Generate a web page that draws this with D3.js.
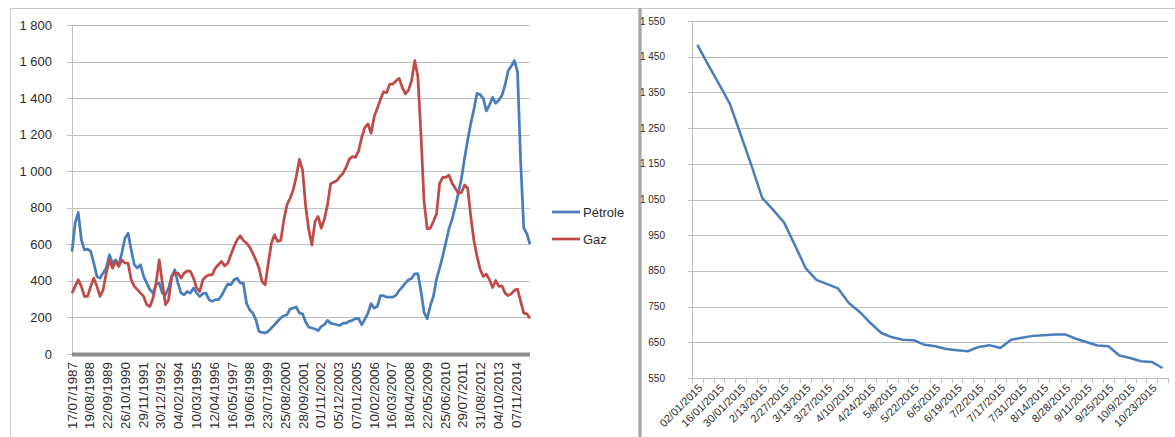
<!DOCTYPE html>
<html>
<head>
<meta charset="utf-8">
<script src="https://cdn.jsdelivr.net/npm/d3@7"></script>
<style>
  body { margin: 0; background: #fff; }
  svg { display: block; font-family: "Liberation Sans", Arial, sans-serif; }
</style>
</head>
<body>
<svg id="chart" width="1175" height="437"></svg>
<script>
// ---- Long-run series: one reading every 10 weeks from 17/07/1987 ----
const sampleStepWeeks = 10;
const oilLong = [
  560, 716, 774, 625, 570, 574, 561, 497, 424, 415,
  443, 470, 543, 497, 515, 488, 552, 634, 661, 570,
  488, 470, 488, 424, 388, 352, 333, 379, 388, 333,
  324, 361, 424, 461, 388, 333, 324, 342, 333, 361,
  333, 315, 330, 333, 297, 288, 297, 297, 319, 352,
  384, 379, 406, 415, 388, 388, 279, 242, 224, 188,
  124, 118, 115, 124, 142, 160, 179, 197, 209, 215,
  246, 251, 257, 224, 220, 175, 147, 142, 137, 128,
  151, 160, 184, 169, 164, 160, 157, 169, 169, 179,
  184, 195, 193, 160, 191, 224, 275, 251, 260, 319,
  319, 311, 311, 311, 322, 348, 366, 388, 406, 413,
  439, 440, 345, 228, 193, 264, 315, 410, 470, 537,
  610, 685, 738, 805, 880, 960, 1071, 1171, 1262, 1339,
  1426, 1419, 1399, 1330, 1362, 1404, 1372, 1390, 1415, 1472,
  1550, 1576, 1605, 1545, 1053, 689, 658, 600
];
const gasLong = [
  333, 370, 406, 370, 315, 315, 370, 415, 370, 315,
  352, 443, 515, 470, 506, 479, 515, 497, 497, 406,
  370, 352, 333, 315, 270, 260, 306, 388, 515, 388,
  270, 297, 424, 443, 443, 415, 443, 455, 452, 415,
  361, 342, 406, 424, 433, 433, 470, 488, 506, 482,
  497, 543, 588, 625, 647, 621, 607, 585, 552, 515,
  470, 397, 379, 497, 607, 652, 616, 621, 734, 816,
  852, 898, 971, 1065, 1007, 807, 679, 596, 725, 752,
  689, 738, 816, 931, 940, 949, 971, 989, 1022, 1066,
  1080, 1076, 1113, 1186, 1240, 1258, 1208, 1299, 1344, 1393,
  1435, 1430, 1477, 1477, 1495, 1508, 1459, 1423, 1444, 1495,
  1605, 1520, 1200, 834, 685, 689, 725, 767, 934, 967,
  967, 978, 934, 907, 880, 883, 925, 907, 752, 621,
  534, 464, 424, 437, 406, 364, 402, 370, 373, 333,
  319, 330, 348, 355, 288, 224, 220, 195
];
const longLabelStepWeeks = 57;
const longLabels = [
  "17/07/1987", "19/08/1988", "22/09/1989", "26/10/1990", "29/11/1991",
  "30/12/1992", "04/02/1994", "10/03/1995", "12/04/1996", "16/05/1997",
  "19/06/1998", "23/07/1999", "25/08/2000", "28/09/2001", "01/11/2002",
  "05/12/2003", "07/01/2005", "10/02/2006", "16/03/2007", "18/04/2008",
  "22/05/2009", "25/06/2010", "29/07/2011", "31/08/2012", "04/10/2013",
  "07/11/2014"
];
const longTicks = [0, 200, 400, 600, 800, 1000, 1200, 1400, 1600, 1800];
const seriesNames = ["Pétrole", "Gaz"];
const seriesColors = ["#4a7ebb", "#be4b48"];

// ---- 2015 weekly series ----
const weeks2015 = [
  "02/01/2015", "09/01/2015", "16/01/2015", "23/01/2015", "30/01/2015",
  "2/6/2015", "2/13/2015", "2/20/2015", "2/27/2015", "3/6/2015",
  "3/13/2015", "3/20/2015", "3/27/2015", "4/3/2015", "4/10/2015",
  "4/17/2015", "4/24/2015", "5/1/2015", "5/8/2015", "5/15/2015",
  "5/22/2015", "5/29/2015", "6/5/2015", "6/12/2015", "6/19/2015",
  "6/26/2015", "7/2/2015", "7/10/2015", "7/17/2015", "7/24/2015",
  "7/31/2015", "8/7/2015", "8/14/2015", "8/21/2015", "8/28/2015",
  "9/4/2015", "9/11/2015", "9/18/2015", "9/25/2015", "10/2/2015",
  "10/9/2015", "10/16/2015", "10/23/2015", "10/30/2015"
];
const oil2015 = [
  1483, 1427, 1373, 1318, 1232, 1145, 1054, 1021, 986, 923,
  858, 825, 813, 801, 760, 735, 704, 676, 664, 657,
  656, 643, 639, 631, 628, 625, 637, 642, 634, 657,
  663, 668, 670, 672, 672, 660, 650, 641, 639, 613,
  606, 597, 595, 578
];
const ticks2015 = [550, 650, 750, 850, 950, 1050, 1150, 1250, 1350, 1450, 1550];

// ---- drawing ----
const svg = d3.select("#chart");
const fr = d3.formatLocale({ decimal: ",", thousands: " ", grouping: [3], currency: ["", " €"] });
const fmt = fr.format(",d");
const gridColor = "#bfbfbf";
const textColor = "#2b2b2b";

// panel frames
svg.append("rect").attr("x", 10.5).attr("y", 8.5).attr("width", 628).attr("height", 460)
  .attr("fill", "none").attr("stroke", "#c6c6c6");
svg.append("rect").attr("x", 641.5).attr("y", 8.5).attr("width", 560).attr("height", 460)
  .attr("fill", "none").attr("stroke", "#c6c6c6");
svg.append("line").attr("x1", 640).attr("x2", 640).attr("y1", 8).attr("y2", 437)
  .attr("stroke", "#a8a8a8").attr("stroke-width", 2);

// ===== Left chart =====
const L = { left: 72, right: 530, top: 25, bottom: 354 };
const xL = d3.scaleLinear().domain([0, (oilLong.length - 1) * sampleStepWeeks]).range([L.left, L.right]);
const yL = d3.scaleLinear().domain([0, 1800]).range([L.bottom, L.top]);
const gL = svg.append("g");

gL.selectAll("line.grid").data(longTicks.filter(d => d > 0)).join("line")
  .attr("x1", L.left - 5).attr("x2", L.right)
  .attr("y1", d => Math.round(yL(d)) + 0.5).attr("y2", d => Math.round(yL(d)) + 0.5)
  .attr("stroke", gridColor);
gL.append("line").attr("x1", L.left - 5).attr("x2", L.left)
  .attr("y1", L.bottom + 0.5).attr("y2", L.bottom + 0.5).attr("stroke", gridColor);
gL.append("line").attr("x1", L.left + 0.5).attr("x2", L.left + 0.5)
  .attr("y1", L.top).attr("y2", L.bottom).attr("stroke", gridColor);

gL.selectAll("text.ylab").data(longTicks).join("text")
  .attr("x", 52).attr("y", d => yL(d)).attr("dy", "0.35em")
  .attr("text-anchor", "end").attr("font-size", 13).attr("fill", textColor)
  .text(d => fmt(d));

const lineL = d3.line().x((d, i) => xL(i * sampleStepWeeks)).y(d => yL(d));
[oilLong, gasLong].forEach((s, k) => {
  gL.append("path").datum(s).attr("d", lineL).attr("fill", "none")
    .attr("stroke", seriesColors[k]).attr("stroke-width", 2.75).attr("stroke-linejoin", "round");
});

// dense category axis
gL.append("line").attr("x1", L.left).attr("x2", L.right)
  .attr("y1", L.bottom + 0.5).attr("y2", L.bottom + 0.5)
  .attr("stroke", "#8c8c8c").attr("stroke-width", 4);

gL.selectAll("text.xlab").data(longLabels).join("text")
  .attr("transform", (d, i) => `translate(${xL(i * longLabelStepWeeks)},362) rotate(-90)`)
  .attr("text-anchor", "end").attr("dy", "0.35em")
  .attr("font-size", 13.4).attr("fill", textColor)
  .text(d => d);

// legend
const leg = gL.append("g");
seriesNames.forEach((n, k) => {
  const y = 212 + k * 27;
  leg.append("line").attr("x1", 552).attr("x2", 580).attr("y1", y).attr("y2", y)
    .attr("stroke", seriesColors[k]).attr("stroke-width", 2.75);
  leg.append("text").attr("x", 583).attr("y", y).attr("dy", "0.35em")
    .attr("font-size", 13).attr("fill", textColor).text(n);
});

// ===== Right chart =====
const R = { left: 692, right: 1168, top: 21, bottom: 378 };
const xR = d3.scaleBand().domain(weeks2015).range([R.left, R.right]).padding(0);
const yR = d3.scaleLinear().domain([550, 1550]).range([R.bottom, R.top]);
const gR = svg.append("g");

gR.selectAll("line.grid").data(ticks2015.filter(d => d > 550)).join("line")
  .attr("x1", R.left - 4).attr("x2", R.right)
  .attr("y1", d => Math.round(yR(d)) + 0.5).attr("y2", d => Math.round(yR(d)) + 0.5)
  .attr("stroke", gridColor);
gR.append("line").attr("x1", R.left + 0.5).attr("x2", R.left + 0.5)
  .attr("y1", R.top).attr("y2", R.bottom).attr("stroke", gridColor);
gR.append("line").attr("x1", R.left - 4).attr("x2", R.right)
  .attr("y1", R.bottom + 0.5).attr("y2", R.bottom + 0.5).attr("stroke", gridColor);

const bounds = weeks2015.map(d => xR(d)).concat([R.right]);
gR.selectAll("line.tick").data(bounds).join("line")
  .attr("x1", d => Math.round(d) + 0.5).attr("x2", d => Math.round(d) + 0.5)
  .attr("y1", R.bottom).attr("y2", R.bottom + 5).attr("stroke", gridColor);

gR.selectAll("text.ylab").data(ticks2015).join("text")
  .attr("x", 665).attr("y", d => yR(d)).attr("dy", "0.35em")
  .attr("text-anchor", "end").attr("font-size", 10).attr("fill", textColor)
  .text(d => fmt(d));

const cx = d => xR(d) + xR.bandwidth() / 2;
gR.append("path").datum(oil2015)
  .attr("d", d3.line().x((d, i) => cx(weeks2015[i])).y(d => yR(d)))
  .attr("fill", "none").attr("stroke", seriesColors[0]).attr("stroke-width", 2.5)
  .attr("stroke-linejoin", "round");

gR.selectAll("text.xlab").data(weeks2015.filter((d, i) => i % 2 === 0)).join("text")
  .attr("transform", d => `translate(${cx(d) + 3},386) rotate(-45)`)
  .attr("text-anchor", "end").attr("dy", "0.35em")
  .attr("font-size", 11).attr("fill", textColor)
  .text(d => d);
</script>
</body>
</html>
